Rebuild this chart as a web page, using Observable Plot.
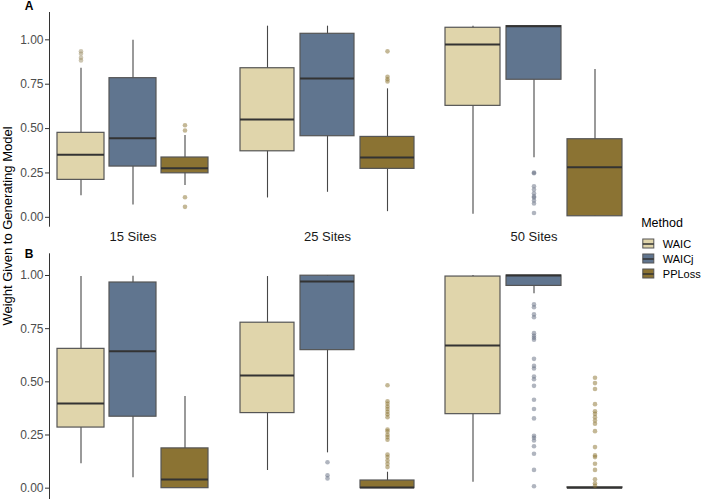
<!DOCTYPE html>
<html>
<head>
<meta charset="utf-8">
<script src="https://cdn.jsdelivr.net/npm/d3@7"></script>
<script src="https://cdn.jsdelivr.net/npm/@observablehq/plot@0.6"></script>
<style>
  body { margin: 0; background: #fff; }
  #fig { position: relative; width: 702px; height: 499px; overflow: hidden; font-family: "Liberation Sans", Arial, sans-serif; }
  #fig svg { position: absolute; }
  #ylab { position: absolute; left: 7px; top: 226px; transform: translate(-50%, -50%) rotate(-90deg);
          white-space: nowrap; font-size: 13px; line-height: 1; color: #000; }
</style>
</head>
<body>
<div id="fig"><div id="ylab">Weight Given to Generating Model</div></div>
<script>
const sites = ["15 Sites", "25 Sites", "50 Sites"];
const methods = ["WAIC", "WAICj", "PPLoss"];
const methodColors = ["#e0d5ab", "#60758f", "#8b7333"];
const outlierColors = ["#9b8d65", "#616b7f", "#89712d"];
const yTicks = [0, 0.25, 0.5, 0.75, 1];
const panels = ["A", "B"];

// Panel A box summaries: one row per site, values in method order
const loA  = [[0.122, 0.070, 0.179], [0.109, 0.141, 0.032], [0.017, 0.335, 0.006]];
const q1A  = [[0.211, 0.286, 0.248], [0.372, 0.457, 0.273], [0.628, 0.775, 0.006]];
const medA = [[0.352, 0.446, 0.276], [0.551, 0.782, 0.337], [0.974, 1.077, 0.282]];
const q3A  = [[0.476, 0.784, 0.337], [0.840, 1.034, 0.453], [1.068, 1.077, 0.440]];
const hiA  = [[0.840, 0.997, 0.461], [1.077, 1.077, 0.724], [1.077, 1.077, 0.833]];
const outA = [
  [[0.936, 0.922, 0.899, 0.884], [], [0.519, 0.489, 0.113, 0.059]],
  [[], [], [0.935, 0.792, 0.778, 0.765]],
  [[], [0.252, 0.248, 0.175, 0.157, 0.136, 0.118, 0.112, 0.095, 0.078, 0.024], []]
];

// Panel B box summaries
const loB  = [[0.115, 0.049, 0.000], [0.083, 0.166, 0.000], [0.028, 0.914, 0.000]];
const q1B  = [[0.285, 0.336, 0.000], [0.353, 0.649, 0.000], [0.348, 0.951, 0.000]];
const medB = [[0.398, 0.644, 0.041], [0.530, 0.972, 0.003], [0.671, 1.000, 0.002]];
const q3B  = [[0.655, 0.967, 0.187], [0.778, 0.999, 0.036], [0.995, 1.000, 0.004]];
const hiB  = [[0.995, 0.997, 0.431], [0.995, 1.000, 0.075], [1.000, 1.000, 0.004]];
const outB = [
  [[], [], []],
  [[], [0.122, 0.061, 0.046],
   [0.484, 0.409, 0.397, 0.384, 0.372, 0.359, 0.347, 0.334, 0.276, 0.267, 0.251, 0.240, 0.228,
    0.158, 0.146, 0.130, 0.115, 0.099]],
  [[], [0.864, 0.851, 0.817, 0.804, 0.729, 0.717, 0.707, 0.698, 0.608, 0.575, 0.563, 0.525, 0.512,
        0.481, 0.416, 0.372, 0.328, 0.246, 0.237, 0.224, 0.197, 0.162, 0.086, 0.009],
   [0.519, 0.494, 0.466, 0.395, 0.362, 0.350, 0.334, 0.318, 0.303, 0.268, 0.193, 0.154, 0.146,
    0.115, 0.086, 0.042, 0.023, 0.011]]
];

const panelData = [
  {lo: loA, q1: q1A, med: medA, q3: q3A, hi: hiA, out: outA},
  {lo: loB, q1: q1B, med: medB, q3: q3B, hi: hiB, out: outB}
];

// layout: one svg per panel row and site column, overlaid in page coordinates
const rowLayout = [
  {top: 0,   height: 250, marginTop: 12,   marginBottom: 24.3, yDomain: [-0.05, 1.154], labelDy: -6.3},
  {top: 240, height: 259, marginTop: 13.3, marginBottom: 0.7,  yDomain: [-0.05, 1.102], labelDy: 0.4}
];
const colRanges = [[50.9, 214.7], [232.3, 420.8], [438.75, 627.85]];

const font = "'Liberation Sans', Arial, sans-serif";
const fig = document.getElementById("fig");

panels.forEach((panel, pi) => {
  const d = panelData[pi];
  const L = rowLayout[pi];
  sites.forEach((site, si) => {
    const stats = methods.map((m, mi) => ({
      method: m, lo: d.lo[si][mi], q1: d.q1[si][mi], med: d.med[si][mi], q3: d.q3[si][mi], hi: d.hi[si][mi]
    }));
    const marks = [
      Plot.ruleX(stats, {x: "method", y1: "lo", y2: "hi", stroke: "#474747", strokeWidth: 1.1}),
      Plot.barY(stats, {x: "method", y1: "q1", y2: "q3", fill: "method", stroke: "#555", strokeWidth: 1.2}),
      Plot.tickY(stats, {x: "method", y: "med", stroke: "#333", strokeWidth: 2})
    ];
    methods.forEach((m, mi) => {
      const pts = d.out[si][mi].map(v => ({method: m, value: v}));
      marks.push(Plot.dot(pts, {x: "method", y: "value", r: 2.3, fill: outlierColors[mi], fillOpacity: 0.5, stroke: "none"}));
    });
    if (pi === 0) {
      marks.push(Plot.text([site], {x: () => methods[1], frameAnchor: "bottom", dy: 11, lineAnchor: "middle",
        textAnchor: "middle", fontSize: 13, fill: "#1a1a1a"}));
    }
    if (si === 0) {
      marks.push(Plot.text([panel], {frameAnchor: "top-left", dx: -20.3, dy: L.labelDy, textAnchor: "middle",
        lineAnchor: "middle", fontSize: 12, fontWeight: "bold", fill: "#000"}));
    }
    const svg = Plot.plot({
      width: 702, height: L.height,
      marginTop: L.marginTop, marginBottom: L.marginBottom, marginLeft: 49, marginRight: 0,
      style: {background: "transparent", fontFamily: font, fontSize: "12px", color: "#333", overflow: "visible"},
      x: {type: "band", domain: methods, range: colRanges[si], padding: 0.1, axis: null},
      y: si === 0
        ? {domain: L.yDomain, ticks: yTicks, tickFormat: d3.format(".2f"), tickSize: 4, tickPadding: 2,
           line: true, label: null, axis: "left"}
        : {domain: L.yDomain, axis: null},
      color: {domain: methods, range: methodColors},
      marks
    });
    svg.style.left = "0px";
    svg.style.top = L.top + "px";
    d3.select(svg).selectAll("[aria-label^='y-axis'] text").attr("fill", "#4d4d4d");
    fig.appendChild(svg);
  });
});

// legend
const legend = Plot.plot({
  width: 66, height: 72, margin: 0,
  style: {background: "transparent", fontFamily: font, overflow: "visible"},
  x: {domain: [0, 66], range: [0, 66], axis: null},
  y: {type: "band", domain: methods, range: [23.8, 68.8], paddingInner: 0.4, paddingOuter: 0.2, axis: null},
  color: {domain: methods, range: methodColors},
  marks: [
    Plot.text(["Method"], {frameAnchor: "top-left", dx: 4.7, dy: 10.7, textAnchor: "start", lineAnchor: "middle",
      fontSize: 12.5, fill: "#000"}),
    Plot.ruleX(methods, {x: () => 12.3, y: m => m, insetTop: -2.5, insetBottom: -2.5, stroke: "#474747"}),
    Plot.barX(methods, {x1: () => 6.8, x2: () => 17.8, y: m => m, fill: m => m, stroke: "#555"}),
    Plot.ruleY(methods, {y: m => m, x1: () => 6.8, x2: () => 17.8, stroke: "#333", strokeWidth: 1.5}),
    Plot.text(methods, {x: () => 26.3, y: m => m, text: m => m, textAnchor: "start", fontSize: 11, fill: "#000"})
  ]
});
legend.style.left = "636px";
legend.style.top = "212px";
fig.appendChild(legend);
</script>
</body>
</html>
